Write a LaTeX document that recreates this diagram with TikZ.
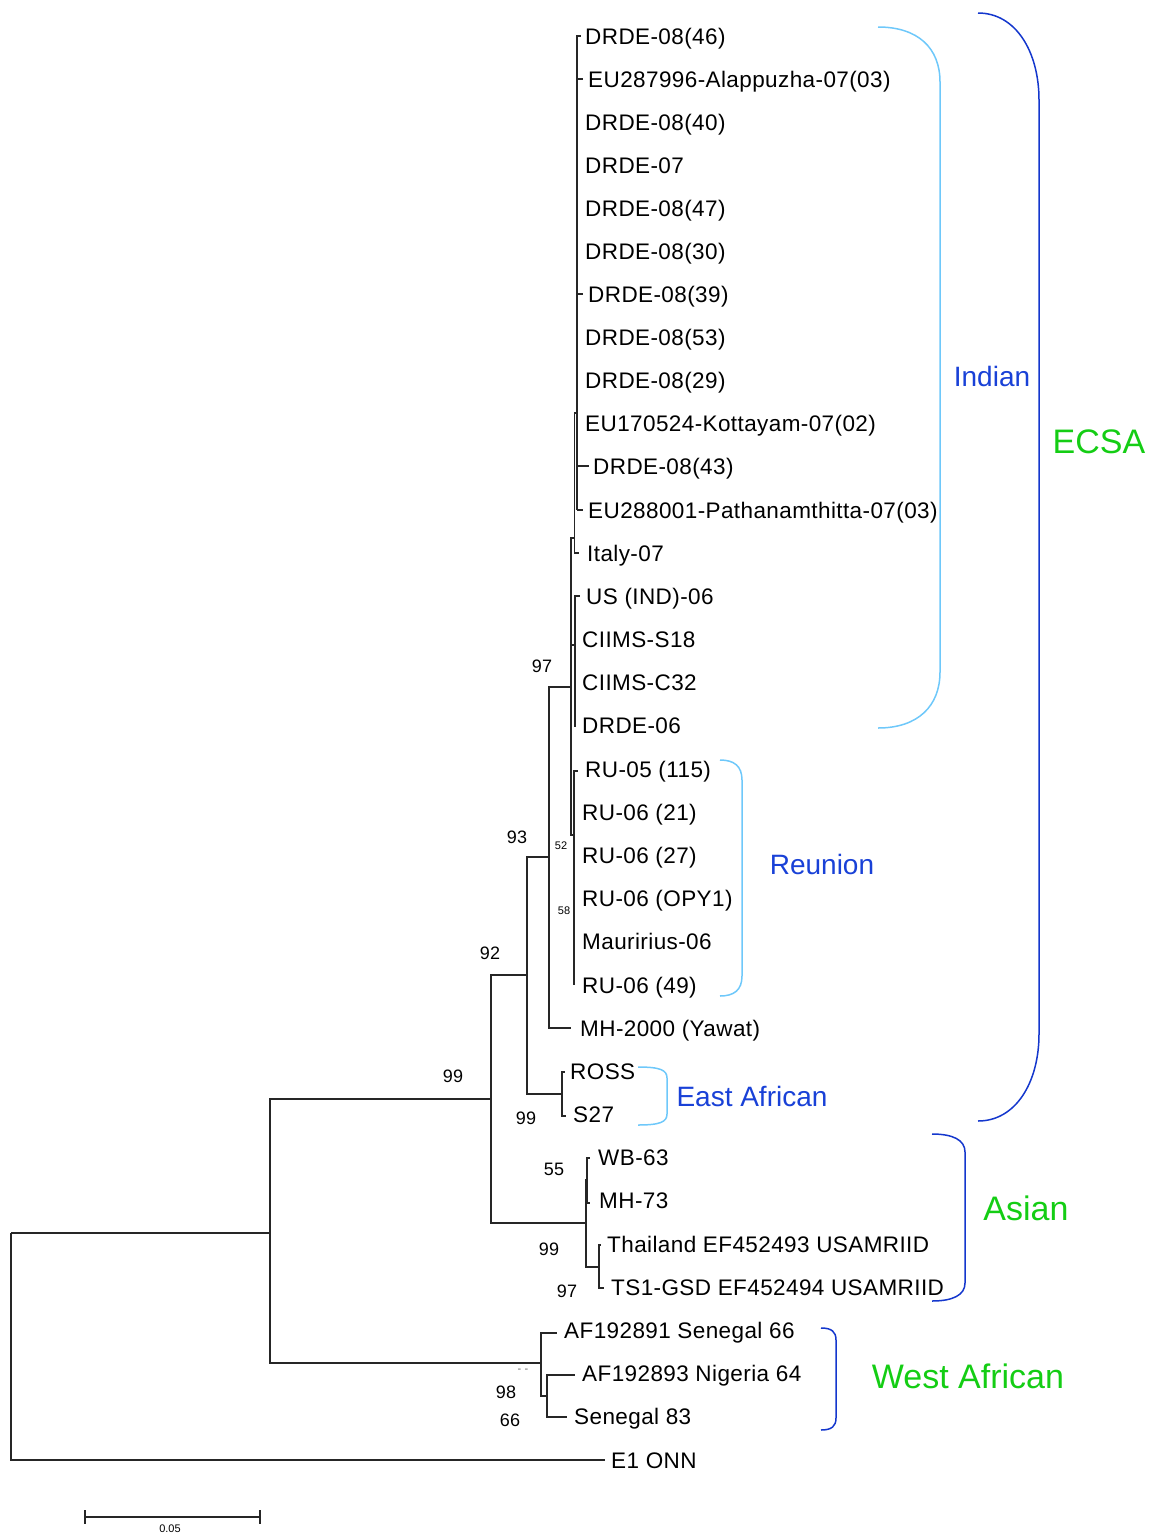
\documentclass[tikz,border=0pt]{standalone}
\usepackage{fontspec}
\setmainfont{Liberation Sans}
\newfontfamily\lf[LetterSpace=1.8]{Liberation Sans}
\definecolor{lblue}{RGB}{110,200,250}
\definecolor{dblue}{RGB}{20,55,205}
\definecolor{tblue}{RGB}{25,65,215}
\definecolor{tgreen}{RGB}{20,205,20}
\begin{document}
\begin{tikzpicture}[x=1pt,y=-1pt,
  tree/.style={line width=1.2pt,black!85},
  thick tree/.style={line width=2pt,black!85},
  leaf/.style={anchor=base west,inner sep=0pt,font=\fontsize{22.5}{26}\lf},
  boot/.style={inner sep=0pt,font=\fontsize{18}{20}\selectfont},
  sboot/.style={inner sep=0pt,font=\fontsize{11}{12}\lf},
  brL/.style={lblue,line width=1.5pt},
  brD/.style={dblue,line width=1.5pt},
  grpB/.style={inner sep=0pt,text=tblue,font=\fontsize{28}{32}\selectfont},
  grpG/.style={inner sep=0pt,text=tgreen,font=\fontsize{34}{38}\selectfont}]
\useasboundingbox (0,0) rectangle (1150,1534);

% ---------- leaves ----------
\node[leaf] (l1)  at (585,44)   {DRDE-08(46)};
\node[leaf] (l2)  at (588,87)   {EU287996-Alappuzha-07(03)};
\node[leaf] (l3)  at (585,130)  {DRDE-08(40)};
\node[leaf] (l4)  at (585,173)  {DRDE-07};
\node[leaf] (l5)  at (585,216)  {DRDE-08(47)};
\node[leaf] (l6)  at (585,259)  {DRDE-08(30)};
\node[leaf] (l7)  at (588,302)  {DRDE-08(39)};
\node[leaf] (l8)  at (585,345)  {DRDE-08(53)};
\node[leaf] (l9)  at (585,388)  {DRDE-08(29)};
\node[leaf] (l10) at (585,431)  {EU170524-Kottayam-07(02)};
\node[leaf] (l11) at (593,474)  {DRDE-08(43)};
\node[leaf] (l12) at (588,518)  {EU288001-Pathanamthitta-07(03)};
\node[leaf] (l13) at (587,561)  {Italy-07};
\node[leaf] (l14) at (586,604)  {US (IND)-06};
\node[leaf] (l15) at (582,647)  {CIIMS-S18};
\node[leaf] (l16) at (582,690)  {CIIMS-C32};
\node[leaf] (l17) at (582,733)  {DRDE-06};
\node[leaf] (l18) at (585,777)  {RU-05 (115)};
\node[leaf] (l19) at (582,820)  {RU-06 (21)};
\node[leaf] (l20) at (582,863)  {RU-06 (27)};
\node[leaf] (l21) at (582,906)  {RU-06 (OPY1)};
\node[leaf] (l22) at (582,949)  {Mauririus-06};
\node[leaf] (l23) at (582,993)  {RU-06 (49)};
\node[leaf] (l24) at (580,1036) {MH-2000 (Yawat)};
\node[leaf] (l25) at (570,1079) {ROSS};
\node[leaf] (l26) at (573,1122) {S27};
\node[leaf] (l27) at (598,1165) {WB-63};
\node[leaf] (l28) at (599,1208) {MH-73};
\node[leaf] (l29) at (607,1252) {Thailand EF452493 USAMRIID};
\node[leaf] (l30) at (611,1295) {TS1-GSD EF452494 USAMRIID};
\node[leaf] (l31) at (564,1338) {AF192891 Senegal 66};
\node[leaf] (l32) at (582,1381) {AF192893 Nigeria 64};
\node[leaf] (l33) at (574,1424) {Senegal 83};
\node[leaf] (l34) at (611,1468) {E1 ONN};

% ---------- internal nodes ----------
\coordinate (root) at (11,1233);
\coordinate (nA)   at (270,1233);
\coordinate (nB)   at (491,1099);
\coordinate (nW)   at (541,1363);
\coordinate (nWs)  at (547,1396);
\coordinate (nC)   at (527,975);
\coordinate (nAs)  at (586,1223);
\coordinate (nWM)  at (587,1180);
\coordinate (nTT)  at (599,1267);
\coordinate (nD)   at (549,857);
\coordinate (nEA)  at (562,1094);
\coordinate (nE)   at (571,687);
\coordinate (nE2)  at (571,538);
\coordinate (nV2)  at (574.5,538);
\coordinate (nI1)  at (577,413);
\coordinate (nV4)  at (575,645);
\coordinate (nR)   at (573.5,835);

% tips
\coordinate (t1)  at (581,36);
\coordinate (t2)  at (583,79);
\coordinate (t7)  at (583,294);
\coordinate (t11) at (589,466);
\coordinate (t12) at (583,510);
\coordinate (t13) at (579,553);
\coordinate (t14) at (580,596);
\coordinate (t18) at (578,771);
\coordinate (t24) at (571,1028);
\coordinate (t25) at (565,1072);
\coordinate (t26) at (566,1116);
\coordinate (t27) at (590,1158);
\coordinate (t28) at (590,1203);
\coordinate (t29) at (601,1245);
\coordinate (t30) at (604,1288);
\coordinate (t31) at (557,1333);
\coordinate (t32) at (575,1375);
\coordinate (t33) at (567,1417);
\coordinate (t34) at (605,1460);

% ---------- branches ----------
\draw[tree] (root) |- (t34);
\draw[tree] (root) -- (nA);
\draw[tree] (nA) |- (nB);
\draw[tree] (nA) |- (nW);
\draw[tree] (nW) |- (t31);
\draw[tree] (nW) |- (nWs);
\draw[tree] (nWs) |- (t32);
\draw[tree] (nWs) |- (t33);
\draw[tree] (nB) |- (nC);
\draw[tree] (nB) |- (nAs);
\draw[tree] (nAs) |- (nWM);
\draw[tree] (nAs) |- (nTT);
\draw[tree] (nWM) |- (t27);
\draw[tree] (nWM) |- (t28);
\draw[tree] (nTT) |- (t29);
\draw[tree] (nTT) |- (t30);
\draw[tree] (nC) |- (nD);
\draw[tree] (nC) |- (nEA);
\draw[tree] (nEA) |- (t25);
\draw[tree] (nEA) |- (t26);
\draw[tree] (nD) |- (nE);
\draw[tree] (nD) |- (t24);
\draw[tree] (nE) -- (nE2) -- (nV2);
\draw[tree] (nE) |- (nR);
\draw[tree] (nE) |- (nV4);
\draw[tree] (nV2) |- (nI1);
\draw[tree] (nV2) |- (t13);
\draw[thick tree] (nV4) |- (t14);
\draw[thick tree] (nV4) -- (575,727);
\draw[thick tree] (nR) |- (t18);
\draw[thick tree] (nR) -- (573.5,985);
\draw[thick tree] (nI1) |- (t1);
\draw[thick tree] (nI1) -- (577,510);
\draw[tree] (577,79) -- (t2);
\draw[tree] (577,294) -- (t7);
\draw[tree] (577,466) -- (t11);
\draw[tree] (577,510) -- (t12);

% ---------- bootstrap values ----------
\node[boot] (b1)  at (453,1076) {99};
\node[boot] (b2)  at (490,953)  {92};
\node[boot] (b3)  at (517,837)  {93};
\node[boot] (b4)  at (542,666)  {97};
\node[sboot] (b5) at (561,846)  {52};
\node[sboot] (b6) at (564,911)  {58};
\node[boot] (b7)  at (526,1118) {99};
\node[boot] (b8)  at (554,1169) {55};
\node[boot] (b9)  at (549,1249) {99};
\node[boot] (b10) at (567,1291) {97};
\node[boot] (b11) at (506,1392) {98};
\node[boot] (b12) at (510,1420) {66};
\node[sboot,text=black!60] (b13) at (523,1371) {- -};

% ---------- brackets ----------
\draw[brL] (878,27) .. controls (918,27) and (940,48) .. (940,82)
  -- (940,672) .. controls (940,706) and (918,728) .. (878,728);
\draw[brD] (978,13) .. controls (1016,13) and (1039,52) .. (1039,100)
  -- (1039,1034) .. controls (1039,1082) and (1016,1121) .. (978,1121);
\draw[brL] (720,760) .. controls (734,760) and (742,766) .. (742,780)
  -- (742,976) .. controls (742,990) and (734,996) .. (720,996);
\draw[brL] (638,1067) .. controls (660,1067) and (667,1070) .. (667,1078)
  -- (667,1114) .. controls (667,1122) and (660,1125) .. (638,1125);
\draw[brD] (932,1134) .. controls (953,1134) and (965,1140) .. (965,1152)
  -- (965,1283) .. controls (965,1295) and (953,1301) .. (932,1301);
\draw[brD] (821,1328) .. controls (832,1328) and (836,1332) .. (836,1340)
  -- (836,1418) .. controls (836,1426) and (832,1430) .. (821,1430);

% ---------- group labels ----------
\node[grpB] (gInd) at (992,376)  {Indian};
\node[grpG] (gEC)  at (1099,442) {ECSA};
\node[grpB] (gReu) at (822,864)  {Reunion};
\node[grpB] (gEA)  at (752,1096) {East African};
\node[grpG] (gAs)  at (1026,1208) {Asian};
\node[grpG] (gWA)  at (968,1376) {West African};

% ---------- scale bar ----------
\coordinate (s1) at (85,1517);
\coordinate (s2) at (260,1517);
\draw[line width=1.2pt,black!85] (s1) -- (s2);
\draw[line width=1.2pt,black!85] (85,1510) -- (85,1524);
\draw[line width=1.2pt,black!85] (260,1510) -- (260,1524);
\node[anchor=south,inner sep=0pt,font=\fontsize{11}{12}\selectfont] (sl) at (170,1532.5) {0.05};
\end{tikzpicture}
\end{document}
